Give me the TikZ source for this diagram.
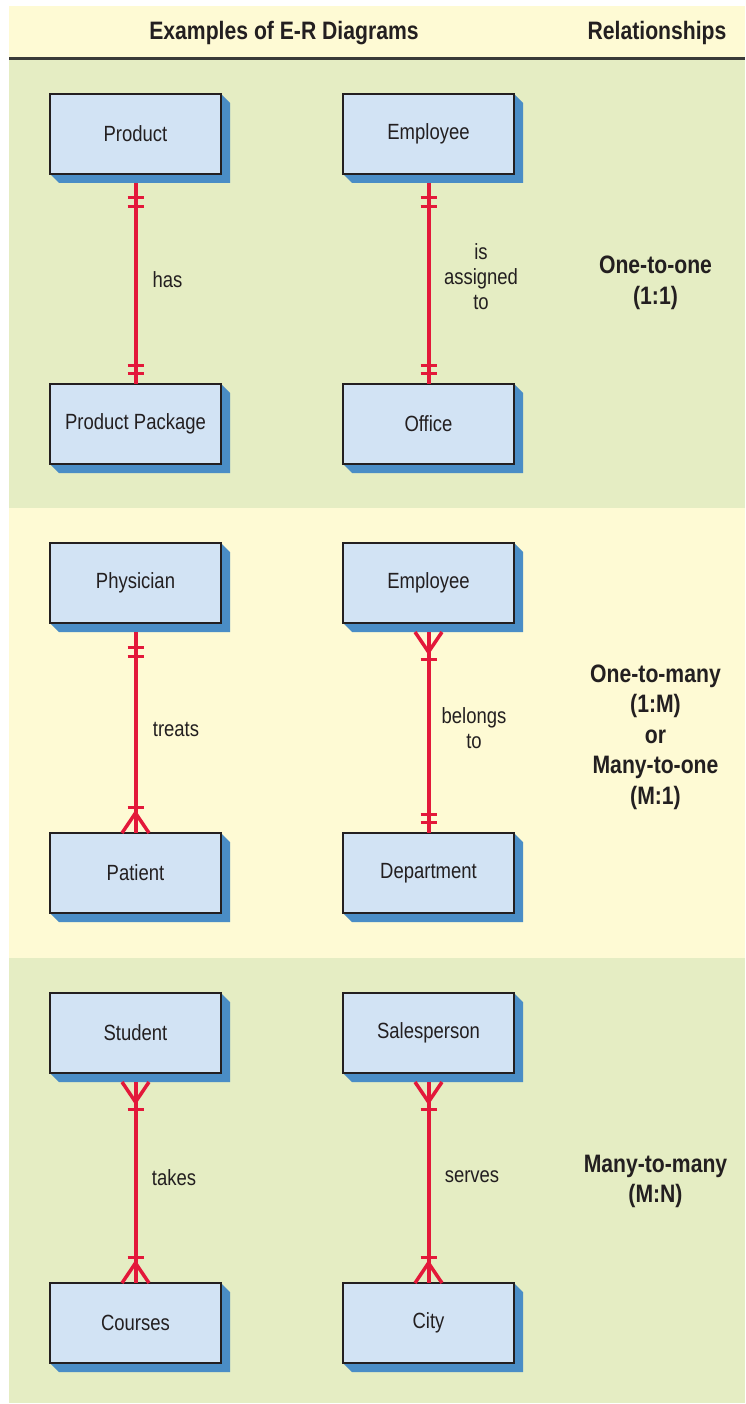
\documentclass[tikz,border=0pt]{standalone}
\usepackage{fontspec}
\setmainfont{Liberation Sans}[FakeStretch=0.84]
\usetikzlibrary{calc}
\definecolor{ink}{HTML}{231F20}
\definecolor{yellowbg}{HTML}{FEFAD4}
\definecolor{greenbg}{HTML}{E5EDC3}
\definecolor{boxfill}{HTML}{D2E3F4}
\definecolor{shadowc}{HTML}{4A8DC6}
\definecolor{relred}{HTML}{E3183A}
\definecolor{rulec}{HTML}{3A3A38}
\pgfdeclarelayer{bg}\pgfdeclarelayer{sh}\pgfsetlayers{bg,sh,main}
\tikzset{
  entity/.style={draw=ink,line width=1.2pt,fill=boxfill,minimum width=171pt,minimum height=80pt,
    inner sep=0pt,outer sep=0pt,font=\fontsize{22}{25}\selectfont,text=ink},
  lbl/.style={font=\fontsize{22}{25}\selectfont,text=ink,align=center,inner sep=0pt},
  rlbl/.style={font=\bfseries\fontsize{25.2}{30.5}\selectfont,text=ink,align=center,inner sep=0pt},
  hdr/.style={font=\bfseries\fontsize{25.2}{28}\selectfont,text=ink,inner sep=0pt},
  rel/.style={draw=relred,line width=4pt},
  bar/.style={draw=relred,line width=3pt},
  foot/.style={draw=relred,line width=3.5pt,line join=miter},
  onetop/.pic={\draw[bar] (-8,15) -- (8,15); \draw[bar] (-8,24) -- (8,24);},
  onebot/.pic={\draw[bar] (-8,-11) -- (8,-11); \draw[bar] (-8,-19) -- (8,-19);},
  crowtop/.pic={\draw[foot] (-13.5,0) -- (0,20) -- (13.5,0); \draw[bar] (-8,27) -- (8,27);},
  crowbot/.pic={\draw[foot] (-13.5,0) -- (0,-20) -- (13.5,0); \draw[bar] (-8,-26) -- (8,-26);},
}
\begin{document}
\begin{tikzpicture}[x=1pt,y=-1pt]
\useasboundingbox (0,0) rectangle (745,1404);
\begin{pgfonlayer}{bg}
  \fill[white] (0,0) rectangle (745,1404);
  \fill[yellowbg] (9,6) rectangle (745,58);
  \fill[rulec] (9,57.5) rectangle (745,60);
  \fill[greenbg] (9,60) rectangle (745,508);
  \fill[yellowbg] (9,508) rectangle (745,958);
  \fill[greenbg] (9,958) rectangle (745,1403);
\end{pgfonlayer}

\node[hdr] (h1) at (284,33) {Examples of E-R Diagrams};
\node[hdr] (h2) at (657,33) {Relationships};

% panel 1
\node[entity] (a1) at (135.5,134) {Product};
\node[entity] (b1) at (135.5,424) {Product Package};
\node[entity] (c1) at (428.5,134) {Employee};
\node[entity] (d1) at (428.5,424) {Office};
% panel 2
\node[entity] (a2) at (135.5,583) {Physician};
\node[entity] (b2) at (135.5,873) {Patient};
\node[entity] (c2) at (428.5,583) {Employee};
\node[entity] (d2) at (428.5,873) {Department};
% panel 3
\node[entity] (a3) at (135.5,1033) {Student};
\node[entity] (b3) at (135.5,1323) {Courses};
\node[entity] (c3) at (428.5,1033) {Salesperson};
\node[entity] (d3) at (428.5,1323) {City};

\begin{pgfonlayer}{sh}
\foreach \n in {a1,b1,c1,d1,a2,b2,c2,d2,a3,b3,c3,d3}{
  \fill[shadowc] (\n.north east) -- ($(\n.north east)+(9,9)$) -- ($(\n.south east)+(9,9)$)
    -- ($(\n.south west)+(9,9)$) -- (\n.south west) -- cycle;
}
\end{pgfonlayer}

% connectors
\foreach \t/\b in {a1/b1,c1/d1,a2/b2,c2/d2,a3/b3,c3/d3}{
  \coordinate (\t s) at ($(\t.south)+(0,9)$);
  \draw[rel] (\t s) -- (\b.north);
}
\pic at (a1s) {onetop}; \pic at (b1.north) {onebot};
\pic at (c1s) {onetop}; \pic at (d1.north) {onebot};
\pic at (a2s) {onetop}; \pic at (b2.north) {crowbot};
\pic at (c2s) {crowtop}; \pic at (d2.north) {onebot};
\pic at (a3s) {crowtop}; \pic at (b3.north) {crowbot};
\pic at (c3s) {crowtop}; \pic at (d3.north) {crowbot};

% relationship labels
\node[lbl] (l1) at (167.5,280) {has};
\node[lbl] (l2) at (481,277) {is\\assigned\\to};
\node[lbl] (l3) at (176,729) {treats};
\node[lbl] (l4) at (474,728.5) {belongs\\to};
\node[lbl] (l5) at (174,1178) {takes};
\node[lbl] (l6) at (472,1177) {serves};

% relationship types
\node[rlbl] (r1) at (655.5,283) {One-to-one\\(1:1)};
\node[rlbl] (r2) at (655.5,737) {One-to-many\\(1:M)\\or\\Many-to-one\\(M:1)};
\node[rlbl] (r3) at (655.5,1181.5) {Many-to-many\\(M:N)};
\end{tikzpicture}
\end{document}
